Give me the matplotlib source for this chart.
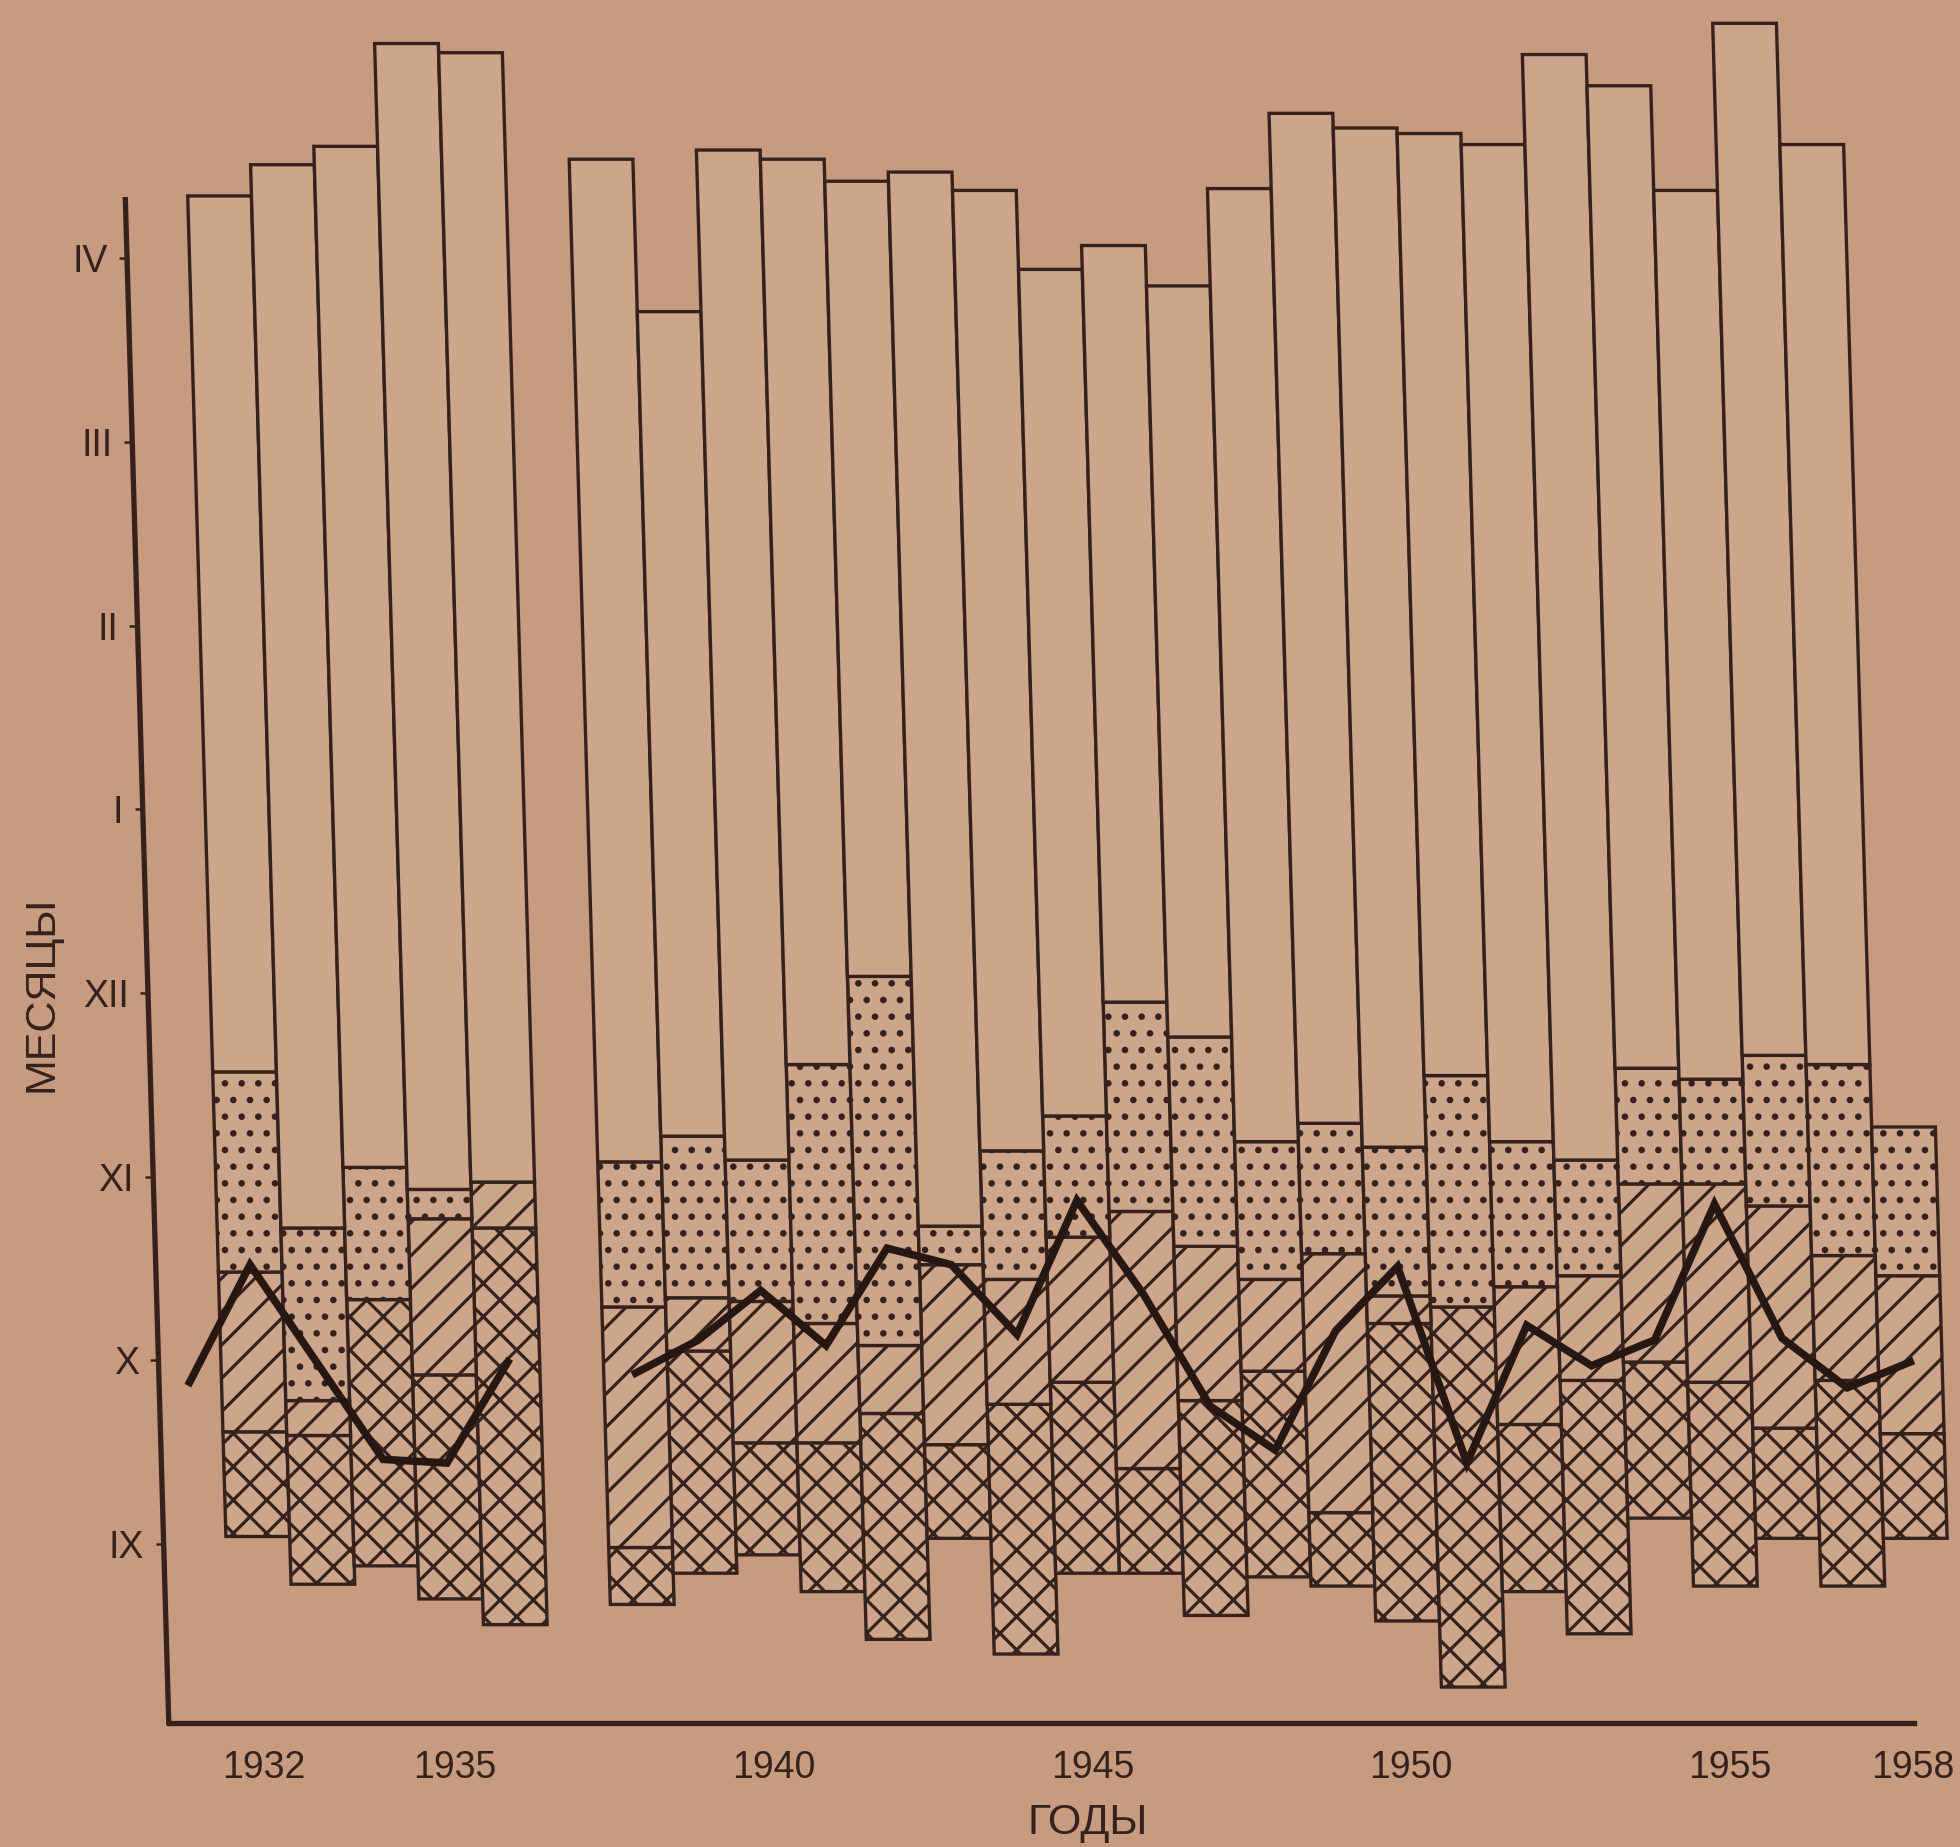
import numpy as np
import matplotlib
matplotlib.use("Agg")
import matplotlib.pyplot as plt
from matplotlib.transforms import Affine2D

# ---------------- data (month scale: 0 = IX tick, 1 = X, ... 7 = IV) ----------------
years = [1932, 1933, 1934, 1935, 1936,
         1938, 1939, 1940, 1941, 1942, 1943, 1944, 1945, 1946, 1947,
         1948, 1949, 1950, 1951, 1952, 1953, 1954, 1955, 1956, 1957, 1958]

start = [0.04, -0.22, -0.12, -0.30, -0.44,
         -0.33, -0.16, -0.06, -0.26, -0.52, 0.03, -0.60, -0.16, -0.16, -0.39,
         -0.18, -0.23, -0.42, -0.78, -0.26, -0.49, 0.14, -0.23, 0.03, -0.23, 0.03]
crosshatch_end = [0.61, 0.59, 1.33, 0.92, 1.72,
                  -0.02, 1.05, 0.55, 0.55, 0.71, 0.54, 0.76, 0.88, 0.41, 0.78,
                  0.94, 0.17, 1.20, 1.29, 0.65, 0.89, 0.99, 0.88, 0.63, 0.89, 0.60]
hatched_end = [1.48, 0.78, 1.33, 1.77, 1.97,
               1.29, 1.34, 1.32, 1.20, 1.08, 1.52, 1.44, 1.67, 1.81, 1.62,
               1.44, 1.58, 1.35, 1.29, 1.40, 1.46, 1.96, 1.96, 1.84, 1.57, 1.46]
dotted_end = [2.57, 1.72, 2.05, 1.93, 1.97,
              2.08, 2.22, 2.09, 2.61, 3.09, 1.73, 2.14, 2.33, 2.95, 2.76,
              2.19, 2.29, 2.16, 2.55, 2.19, 2.09, 2.59, 2.53, 2.66, 2.61, 2.27]
end = [7.34, 7.51, 7.61, 8.17, 8.12,
       7.54, 6.71, 7.59, 7.54, 7.42, 7.47, 7.37, 6.94, 7.07, 6.85,
       7.38, 7.79, 7.71, 7.68, 7.62, 8.11, 7.94, 7.37, 8.28, 7.62, 2.27]

line_years = list(range(1931, 1959))
line_values = [0.88, 1.52, 0.99, 0.46, 0.44, 0.99, np.nan,
               0.93, 1.11, 1.38, 1.08, 1.61, 1.52, 1.14, 1.87, 1.36, 0.75,
               0.51, 1.16, 1.51, 0.44, 1.19, 0.97, 1.11, 1.85, 1.12, 0.85, 0.99]

month_labels = ["IX", "X", "XI", "XII", "I", "II", "III", "IV"]
year_ticks = [1932, 1935, 1940, 1945, 1950, 1955, 1958]
x_title = "ГОДЫ"
y_title = "МЕСЯЦЫ"

# ---------------- style ----------------
BG = "#c69b7f"
FILL = "#cda58a"
INK = "#36221d"
LINE_INK = "#261713"

plt.rcParams["font.family"] = ["Liberation Sans Narrow", "Liberation Sans", "DejaVu Sans"]
plt.rcParams["hatch.linewidth"] = 2.3
plt.rcParams["hatch.color"] = INK

fig = plt.figure(figsize=(19.6, 18.47), dpi=100)
fig.patch.set_facecolor(BG)
ax = fig.add_axes([0.0861, 0.0674, 0.9139, 0.9326])
ax.set_facecolor("none")

XLIM = (1930.52, 1958.62)
YLIM = (-0.973, 8.407)
ax.set_xlim(*XLIM)
ax.set_ylim(*YLIM)

# shear that mimics the slanted photograph of the printed chart
s = 0.0285
xb, yb = ax.transAxes.transform((0, 0))
skew = Affine2D(np.array([[1.0, -s, s * yb], [0.0, 1.0, 0.0], [0.0, 0.0, 1.0]]))
T = ax.transData + skew

yrs = np.array(years, dtype=float)
layers = [
    (np.array(start), np.array(crosshatch_end), "x"),
    (np.array(crosshatch_end), np.array(hatched_end), "/"),
    (np.array(hatched_end), np.array(dotted_end), "."),
    (np.array(dotted_end), np.array(end), ""),
]
for lo, hi, hatch in layers:
    h = hi - lo
    m = h > 0.005
    bars = ax.bar(yrs[m], h[m], bottom=lo[m], width=1.0, color=FILL,
                  edgecolor=INK, linewidth=2.4, hatch=hatch, clip_on=False,
                  zorder=2)
    for p in bars.patches:
        p.set_transform(T)

ax.plot(line_years, line_values, color=LINE_INK, linewidth=5.5,
        solid_joinstyle="miter", transform=T, clip_on=False, zorder=5)

# spines
for side in ("top", "right"):
    ax.spines[side].set_visible(False)
for side in ("left", "bottom"):
    sp = ax.spines[side]
    sp.set_position(("outward", 0))
    sp.set_linewidth(3.8)
    sp.set_color(INK)
ax.spines["left"].set_bounds(YLIM[0], 7.32)
ax.spines["bottom"].set_bounds(XLIM[0], 1957.9)

# ticks
ax.set_xticks(year_ticks)
ax.set_xticklabels([str(y) for y in year_ticks])
ax.set_yticks(range(len(month_labels)))
ax.set_yticklabels(month_labels)
ax.tick_params(axis="x", length=0, pad=20, labelsize=27, labelcolor=INK)
ax.tick_params(axis="y", direction="out", length=6, width=1.8, pad=8,
               labelsize=27, color=INK, labelcolor=INK)

ax.set_xlabel(x_title, fontsize=31, color=INK)
ax.xaxis.set_label_coords(0.513, -0.0585)
ax.xaxis.label.set_va("center")
ax.set_ylabel(y_title, fontsize=31, color=INK)
ax.yaxis.set_label_coords(-0.0712, 0.423)
ax.yaxis.label.set_va("center")
ax.yaxis.label.set_ha("center")

for side in ("left", "bottom"):
    sp = ax.spines[side]
    sp.set_transform(sp.get_transform() + skew)
for tick in ax.xaxis.get_major_ticks() + ax.yaxis.get_major_ticks():
    for art in (tick.tick1line, tick.label1):
        art.set_transform(art.get_transform() + skew)

# keep the last year label inside the picture edge
last = ax.xaxis.get_major_ticks()[-1].label1
last.set_transform(last.get_transform() + Affine2D().translate(-8, 0))

fig.savefig("out.png", dpi=100, facecolor=BG)
